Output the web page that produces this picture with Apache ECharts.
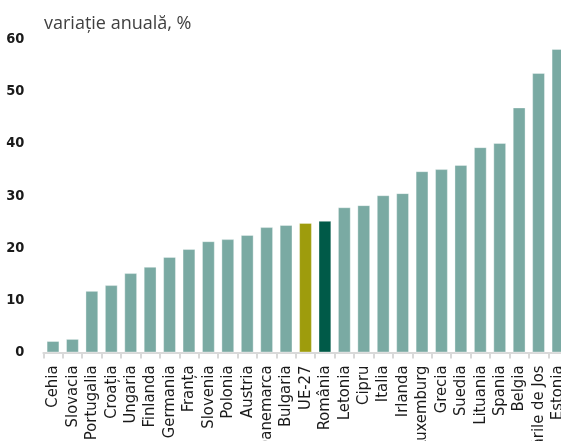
<!DOCTYPE html>
<html>
<head>
<meta charset="utf-8">
<script src="https://cdn.jsdelivr.net/npm/echarts@6/dist/echarts.min.js"></script>
<style>
html,body{margin:0;padding:0;background:#fff;}
#chart{width:561px;height:441px;}
</style>
</head>
<body>
<div id="chart"></div>
<script>
const categories = ["Cehia","Slovacia","Portugalia","Croația","Ungaria","Finlanda","Germania","Franța","Slovenia","Polonia","Austria","Danemarca","Bulgaria","UE-27","România","Letonia","Cipru","Italia","Irlanda","Luxemburg","Grecia","Suedia","Lituania","Spania","Belgia","Țările de Jos","Estonia"];
const values = [2.2,2.6,11.8,12.9,15.2,16.4,18.3,19.8,21.3,21.7,22.5,24.0,24.4,24.8,25.2,27.8,28.2,30.1,30.5,34.7,35.1,35.9,39.3,40.1,46.9,53.5,58.1];
const yTicks = [0,10,20,30,40,50,60];
const titleText = "variație anuală, %";

const baseColor = "#7aaaa3";
const highlight = {"UE-27":"#9e9c0c","România":"#005a48"};

const chart = echarts.init(document.getElementById('chart'), null, {renderer:'canvas'});
const condensed = "'Liberation Sans Narrow','DejaVu Sans Condensed','Roboto Condensed',sans-serif";

chart.setOption({
  animation:false,
  backgroundColor:'#ffffff',
  title:{
    text:titleText,
    left:44, top:15, padding:0,
    textStyle:{fontFamily:"'Open Sans','Noto Sans',sans-serif",fontSize:18,fontWeight:'normal',color:'#404040'}
  },
  grid:{left:43.3,right:-6.7,top:39,bottom:88.5,containLabel:false,outerBoundsMode:'none'},
  xAxis:{
    type:'category',
    data:categories,
    axisLine:{show:true,lineStyle:{color:'#d9d9d9',width:2}},
    axisTick:{show:true,length:6,lineStyle:{color:'#d9d9d9',width:2}},
    axisLabel:{
      interval:0,rotate:90,margin:13,
      fontFamily:condensed,fontSize:16.5,color:'#1a1a1a'
    }
  },
  yAxis:{
    type:'value',
    min:yTicks[0],max:yTicks[yTicks.length-1],interval:10,
    splitLine:{show:false},
    axisLine:{show:false},
    axisTick:{show:false},
    axisLabel:{margin:19,fontFamily:condensed,fontSize:14.5,fontWeight:'bold',color:'#1a1a1a'}
  },
  series:[{
    type:'bar',
    data:values.map((v,i)=>({value:v,itemStyle:{color:highlight[categories[i]]||baseColor}})),
    barCategoryGap:'34%',
    itemStyle:{borderColor:'rgba(255,255,255,0.35)',borderWidth:1}
  }]
});
</script>
</body>
</html>
